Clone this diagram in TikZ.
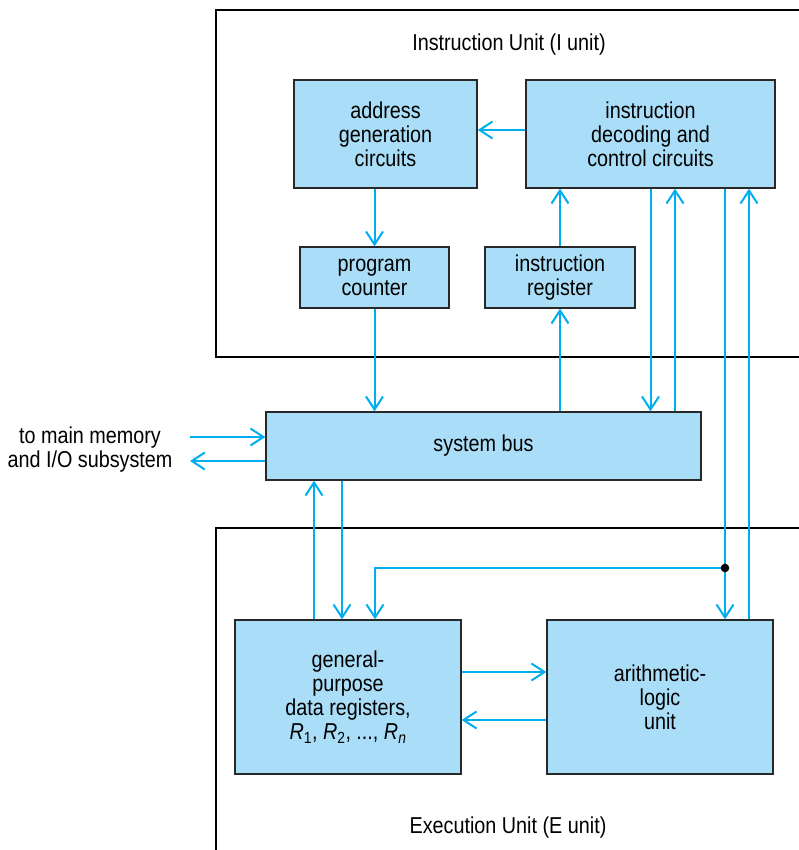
\documentclass[tikz,border=0pt]{standalone}
\usepackage{fontspec}
\setmainfont{Liberation Sans}[FakeStretch=0.86]
\usetikzlibrary{arrows.meta}
\definecolor{boxfill}{RGB}{170,222,248}
\definecolor{wire}{RGB}{0,174,239}
\definecolor{edge}{RGB}{40,40,40}
\tikzset{
  unitframe/.style={draw=black, line width=1.1pt},
  block/.style={draw=edge, line width=1.4pt, fill=boxfill, align=center,
    inner sep=0pt, font=\fontsize{23}{24}\selectfont},
  wireline/.style={draw=wire, line width=2pt},
  arr/.style={wireline, -{Straight Barb[length=13pt,width=17pt,line width=2pt]}},
  caption/.style={font=\fontsize{23}{24}\selectfont, align=center, inner sep=0pt}
}
\begin{document}
\begin{tikzpicture}[x=1pt,y=-1pt]
\useasboundingbox (0,0) rectangle (799,850);

% unit frames, running off the right and bottom edges
\draw[unitframe] (805,10) -- (216,10) -- (216,357) -- (805,357);
\draw[unitframe] (805,528) -- (216,528) -- (216,855);
\node[caption] (iunit) at (509,45) {Instruction Unit (I unit)};
\node[caption] (eunit) at (508,828) {Execution Unit (E unit)};

% functional blocks
\node[block, minimum width=183pt, minimum height=108pt] (addr) at (385.5,134) {address\\generation\\circuits};
\node[block, minimum width=249pt, minimum height=108pt] (dec) at (650.5,134) {instruction\\decoding and\\control circuits};
\node[block, minimum width=149pt, minimum height=61pt] (pc) at (374.5,277.5) {program\\counter};
\node[block, minimum width=150pt, minimum height=61pt] (ir) at (560,277.5) {instruction\\register};
\node[block, minimum width=435pt, minimum height=68pt] (bus) at (483.5,446) {system bus};
\node[block, minimum width=226pt, minimum height=154pt] (gpr) at (348,697) {general-\\purpose\\data registers,\\\textit{R}\textsubscript{1}, \textit{R}\textsubscript{2}, ..., \textit{R}\textsubscript{\textit{n}}};
\node[block, minimum width=226pt, minimum height=154pt] (alu) at (660,697) {arithmetic-\\logic\\unit};

\node[caption] (mem) at (90,450) {to main memory\\and I/O subsystem};

% helper positions for the vertical wires
\coordinate (xa) at (675,0);
\coordinate (xb) at (725,0);
\coordinate (xc) at (749,0);
\coordinate (xd) at (342,0);
\coordinate (xe) at (314,0);
\coordinate (xf) at (375,0);
\coordinate (j) at (725,568);
\coordinate (in) at (190,437);
\coordinate (out) at (190,461);

% I unit wiring
\draw[arr] ([yshift=4pt]dec.west) -- ([yshift=4pt]addr.east);
\draw[arr] (pc.north |- addr.south) -- (pc.north);
\draw[arr] (pc.south) -- (pc.south |- bus.north);
\draw[arr] (ir.north) -- (ir.north |- dec.south);
\draw[arr] (ir.south |- bus.north) -- (ir.south);
\draw[arr] (dec.south) -- (dec.south |- bus.north);
\draw[arr] (xa |- bus.north) -- (xa |- dec.south);
\draw[arr] (xb |- dec.south) -- (xb |- alu.north);
\draw[arr] (xc |- alu.north) -- (xc |- dec.south);
\draw[arr] (j) -| (xf |- gpr.north);
\fill (j) circle (4.3pt);

% bus to registers
\draw[arr] (xd |- bus.south) -- (xd |- gpr.north);
\draw[arr] (xe |- gpr.north) -- (xe |- bus.south);

% registers and ALU
\draw[arr] (gpr.east |- 0,672) -- (alu.west |- 0,672);
\draw[arr] (alu.west |- 0,720) -- (gpr.east |- 0,720);

% external memory link
\draw[arr] (in) -- (bus.west |- in);
\draw[arr] (bus.west |- out) -- (out);
\end{tikzpicture}
\end{document}
